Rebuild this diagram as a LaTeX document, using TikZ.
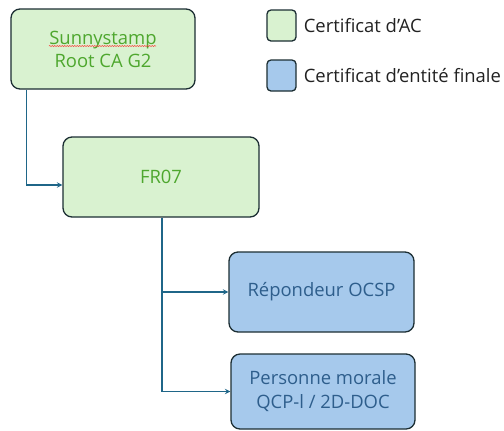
\documentclass[tikz,border=0pt]{standalone}
\usepackage{fontspec}
\setmainfont{Open Sans}
\usepackage{tikz}
\usetikzlibrary{positioning,calc,decorations.pathmorphing}
\definecolor{cafill}{HTML}{D9F2D0}
\definecolor{catext}{HTML}{4EA72E}
\definecolor{eefill}{HTML}{A6C9EC}
\definecolor{eetext}{HTML}{2E5E8C}
\definecolor{boxline}{HTML}{1C2E33}
\definecolor{connline}{HTML}{1F6688}
\definecolor{legtext}{HTML}{222222}

\begin{document}
\begin{tikzpicture}[x=1bp,y=-1bp,
	acbox/.style={draw=boxline,fill=cafill,text=catext,rounded corners=9bp,line width=1.3bp,minimum width=184bp,minimum height=80bp,align=center,font=\fontsize{18.5}{23}\selectfont},
	eebox/.style={draw=boxline,fill=eefill,text=eetext,rounded corners=9bp,line width=1.3bp,minimum width=185bp,minimum height=80bp,align=center,font=\fontsize{18.5}{24}\selectfont},
	legbox/.style={draw=boxline,rounded corners=4bp,line width=1.3bp,minimum width=29bp,minimum height=31bp},
	legtxt/.style={text=legtext,font=\fontsize{18.5}{22}\selectfont,inner sep=0pt},
	conn/.style={draw=connline,line width=1.4bp}]
	\useasboundingbox (0,0) rectangle (504,430);
	
	\node[acbox] (ca1) at (103,49) {Sunnystamp\\Root CA G2};
	\draw[red!80,line width=0.5bp,decorate,decoration={snake,amplitude=0.5bp,segment length=2.5bp}] ($(ca1.center)+(-54,-3)$)--($(ca1.center)+(53,-3)$);
	\node[acbox,minimum width=196bp] (ca2) at (161,177) {FR07};
	\node[eebox] (ee1) at (321.5,292) {Répondeur OCSP};
	\node[eebox,minimum width=184bp,minimum height=75bp] (ee2) at (323,391.5) {Personne morale\\QCP-l / 2D-DOC};
	
	\coordinate (j1) at ($(ca1.south west)+(16,0)$);
	\draw[conn,-stealth] (j1) |- ($(ca2.west)+(0,8)$);
	\coordinate (j2) at ($(ca2.south)+(1,0)$);
	\draw[conn,-stealth] (j2) |- (ee1.west);
	\draw[conn,-stealth] (j2) |- (ee2.west);
	
	\node[legbox,fill=cafill] (leg1) at (281.5,25.5) {};
	\node[legtxt,anchor=west,right=7bp of leg1] (legt1) {Certificat d’AC};
	\node[legbox,fill=eefill] (leg2) at (281.5,75.5) {};
	\node[legtxt,anchor=west,right=7bp of leg2] (legt2) {Certificat d’entité finale};
\end{tikzpicture}
\end{document}
